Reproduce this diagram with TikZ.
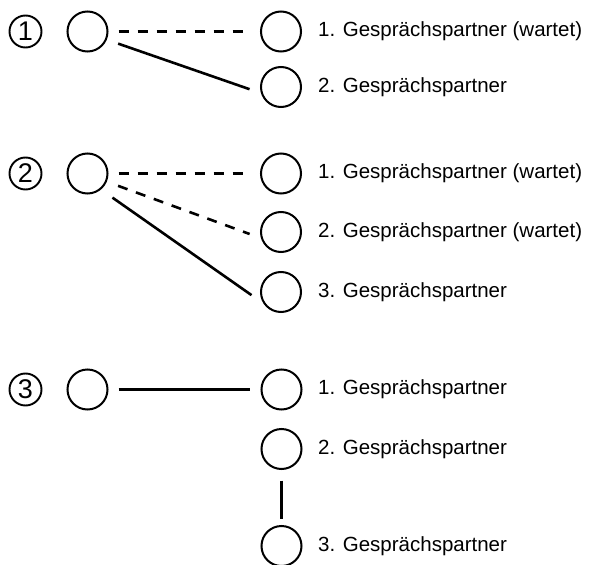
\documentclass[tikz,border=0pt]{standalone}
\usepackage{fontspec}
\setmainfont{Liberation Sans}
\begin{document}
\begin{tikzpicture}[x=1pt,y=-1pt,
 party/.style={circle,draw,line width=2pt,minimum size=40pt,inner sep=0pt},
 lbl/.style={anchor=base west,inner sep=0pt,font=\fontsize{20.5}{24}\selectfont},
 num/.style={circle,draw,line width=1.9pt,minimum size=32pt,inner sep=0pt,font=\fontsize{27}{30}\selectfont},
 conn/.style={line width=2.6pt},
 wait/.style={conn,dash pattern=on 10pt off 9pt}]
\useasboundingbox (0,0) rectangle (590,565);
% row 1
\node[num] (n1) at (25.5,31.5) {1};
\node[party] (a1) at (87.5,31.5) {};
\node[party] (b1) at (281,31.5) {};
\node[party] (b2) at (281,87) {};
\node[lbl] (t11) at (318,36) {1. Gesprächspartner (wartet)};
\node[lbl] (t12) at (318,92) {2. Gesprächspartner};
\draw[wait, shorten <=10pt, shorten >=11pt] (a1.east) -- (b1.west);
\draw[conn, shorten <=12pt, shorten >=12pt] (a1.-23) -- (b2.197);
% row 2
\node[num] (n2) at (25.5,173.5) {2};
\node[party] (a2) at (87.5,173.5) {};
\node[party] (c1) at (281,173.5) {};
\node[party] (c2) at (281,232) {};
\node[party] (c3) at (281,292) {};
\node[lbl] (t21) at (318,178) {1. Gesprächspartner (wartet)};
\node[lbl] (t22) at (318,237) {2. Gesprächspartner (wartet)};
\node[lbl] (t23) at (318,297) {3. Gesprächspartner};
\draw[wait, shorten <=10pt, shorten >=11pt] (a2.east) -- (c1.west);
\draw[wait, shorten <=12pt, shorten >=12pt] (a2.-23) -- (c2.197);
\draw[conn, shorten <=14pt, shorten >=14.5pt] (a2.-50) -- (c3.213);
% row 3
\node[num] (n3) at (25.5,389.5) {3};
\node[party] (a3) at (87.5,389.5) {};
\node[party] (d1) at (281.5,389.5) {};
\node[party] (d2) at (281.5,449) {};
\node[party] (d3) at (281.5,546) {};
\node[lbl] (t31) at (318,394) {1. Gesprächspartner};
\node[lbl] (t32) at (318,454) {2. Gesprächspartner};
\node[lbl] (t33) at (318,551) {3. Gesprächspartner};
\draw[conn, shorten <=10pt, shorten >=11pt] (a3.east) -- (d1.west);
\draw[conn, shorten <=10.5pt, shorten >=6pt] (d2.south) -- (d3.north);
\end{tikzpicture}
\end{document}
